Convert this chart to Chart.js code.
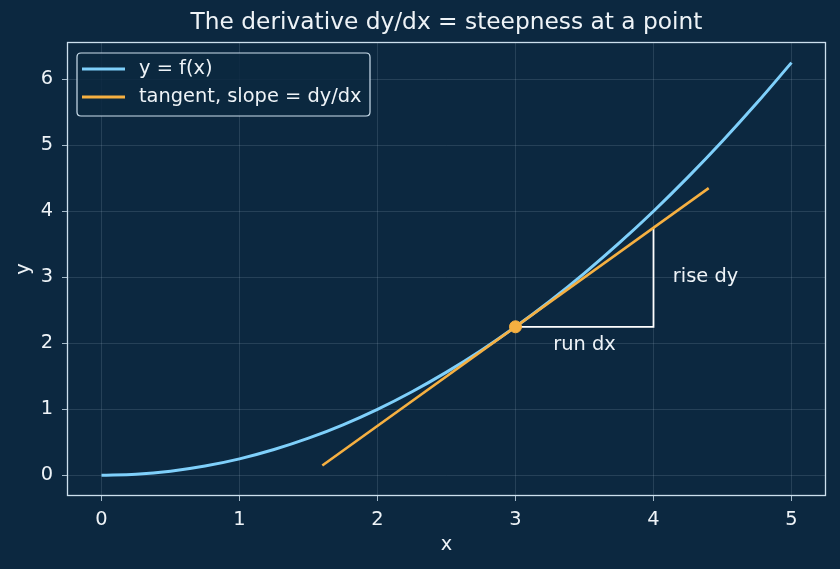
<!DOCTYPE html>
<html>
<head>
<meta charset="utf-8">
<script src="https://cdn.jsdelivr.net/npm/chart.js@4.4.1/dist/chart.umd.min.js"></script>
<style>
html,body{margin:0;padding:0;background:#0c2840;}
#wrap{width:840px;height:569px;}
</style>
</head>
<body>
<div id="wrap"><canvas id="c" width="840" height="569"></canvas></div>
<script>
const curveX = [0,0.25,0.5,0.75,1,1.25,1.5,1.75,2,2.25,2.5,2.75,3,3.25,3.5,3.75,4,4.25,4.5,4.75,5];
const curveY = [0,0.016,0.063,0.141,0.25,0.391,0.563,0.766,1,1.266,1.563,1.891,2.25,2.641,3.063,3.516,4,4.516,5.063,5.641,6.25];
const tangentX = [1.6, 4.4];
const tangentY = [0.15, 4.35];
const pointX = [3];
const pointY = [2.25];
const triX = [3, 4, 4];
const triY = [2.25, 2.25, 3.75];
const xTicks = [0,1,2,3,4,5];
const yTicks = [0,1,2,3,4,5,6];
const titleText = "The derivative dy/dx = steepness at a point";
const xLabel = "x";
const yLabel = "y";
const seriesLabels = ["y = f(x)", "tangent, slope = dy/dx"];
const annotations = [
  {text:"run dx", x:3.5, y:1.98, align:"center"},
  {text:"rise dy", x:4.14, y:3.0, align:"left"}
];

const BG = "#0c2840";
const TXT = "#eef3f7";
const SPINE = "#cde0ee";
const GRID = "rgba(200,220,235,0.18)";
const BLUE = "#7fd0fb";
const ORANGE = "#f6b041";
const FONT = "'DejaVu Sans', sans-serif";
const FS = 19.4;

const zip = (xs, ys) => xs.map((x,i)=>({x, y:ys[i]}));

const deco = {
  id:'deco',
  beforeDraw(chart){
    const c = chart.ctx;
    c.save();
    c.fillStyle = BG;
    c.fillRect(0,0,chart.width,chart.height);
    c.restore();
  },
  afterDraw(chart){
    const c = chart.ctx, a = chart.chartArea;
    const xs = chart.scales.x, ys = chart.scales.y;
    c.save();
    c.strokeStyle = SPINE; c.lineWidth = 1.3;
    c.strokeRect(a.left+0.5, a.top+0.5, a.right-a.left-1, a.bottom-a.top-1);
    c.fillStyle = TXT;
    c.font = "23.3px " + FONT;
    c.textAlign = "center"; c.textBaseline = "middle";
    c.fillText(titleText, (a.left+a.right)/2, 23);
    c.font = FS + "px " + FONT;
    c.fillText(xLabel, (a.left+a.right)/2, 545);
    c.save();
    c.translate(24, (a.top+a.bottom)/2);
    c.rotate(-Math.PI/2);
    c.fillText(yLabel, 0, 0);
    c.restore();
    annotations.forEach(t=>{
      c.textAlign = t.align;
      c.fillText(t.text, xs.getPixelForValue(t.x), ys.getPixelForValue(t.y));
    });
    const lx = 77, ly = 53, lw = 293, lh = 63, r = 4;
    c.beginPath();
    c.moveTo(lx+r, ly); c.lineTo(lx+lw-r, ly); c.quadraticCurveTo(lx+lw, ly, lx+lw, ly+r);
    c.lineTo(lx+lw, ly+lh-r); c.quadraticCurveTo(lx+lw, ly+lh, lx+lw-r, ly+lh);
    c.lineTo(lx+r, ly+lh); c.quadraticCurveTo(lx, ly+lh, lx, ly+lh-r);
    c.lineTo(lx, ly+r); c.quadraticCurveTo(lx, ly, lx+r, ly);
    c.closePath();
    c.fillStyle = "rgba(12,40,64,0.85)"; c.fill();
    c.strokeStyle = SPINE; c.lineWidth = 1.2; c.stroke();
    const cols = [BLUE, ORANGE];
    const rowsY = [69, 97];
    c.textAlign = "left"; c.textBaseline = "middle";
    c.font = FS + "px " + FONT;
    seriesLabels.forEach((lab,i)=>{
      c.strokeStyle = cols[i]; c.lineWidth = 3;
      c.beginPath(); c.moveTo(82, rowsY[i]); c.lineTo(125, rowsY[i]); c.stroke();
      c.fillStyle = TXT;
      c.fillText(lab, 139, rowsY[i]);
    });
    c.restore();
  }
};

new Chart(document.getElementById('c'), {
  type: 'scatter',
  data: {
    datasets: [
      {label: seriesLabels[0], data: zip(curveX, curveY), showLine:true, borderColor:BLUE, borderWidth:3, pointRadius:0, cubicInterpolationMode:'monotone', order:3},
      {label: seriesLabels[1], data: zip(tangentX, tangentY), showLine:true, borderColor:ORANGE, borderWidth:2.6, pointRadius:0, order:2},
      {label: 'run/rise', data: zip(triX, triY), showLine:true, borderColor:'#ffffff', borderWidth:1.8, pointRadius:0, order:4},
      {label: 'point', data: zip(pointX, pointY), showLine:false, pointRadius:6, pointBackgroundColor:ORANGE, pointBorderColor:ORANGE, order:1}
    ]
  },
  options: {
    responsive:false, animation:false, devicePixelRatio:1,
    layout:{padding:{top:42, right:14, left:0, bottom:0}},
    plugins:{legend:{display:false}, title:{display:false}, tooltip:{enabled:false}},
    scales:{
      x:{
        type:'linear', min:-0.25, max:5.25,
        afterBuildTicks: s => { s.ticks = xTicks.map(v=>({value:v})); },
        afterFit: s => { s.height = 73; },
        grid:{color:GRID, lineWidth:0.8, tickColor:SPINE, tickLength:5, drawTicks:true},
        border:{display:false},
        ticks:{color:TXT, font:{family:FONT, size:FS}, padding:7, maxRotation:0}
      },
      y:{
        type:'linear', min:-0.3125, max:6.5625,
        afterBuildTicks: s => { s.ticks = yTicks.map(v=>({value:v})); },
        afterFit: s => { s.width = 67; },
        grid:{color:GRID, lineWidth:0.8, tickColor:SPINE, tickLength:5, drawTicks:true},
        border:{display:false},
        ticks:{color:TXT, font:{family:FONT, size:FS}, padding:9}
      }
    }
  },
  plugins:[deco]
});
</script>
</body>
</html>
